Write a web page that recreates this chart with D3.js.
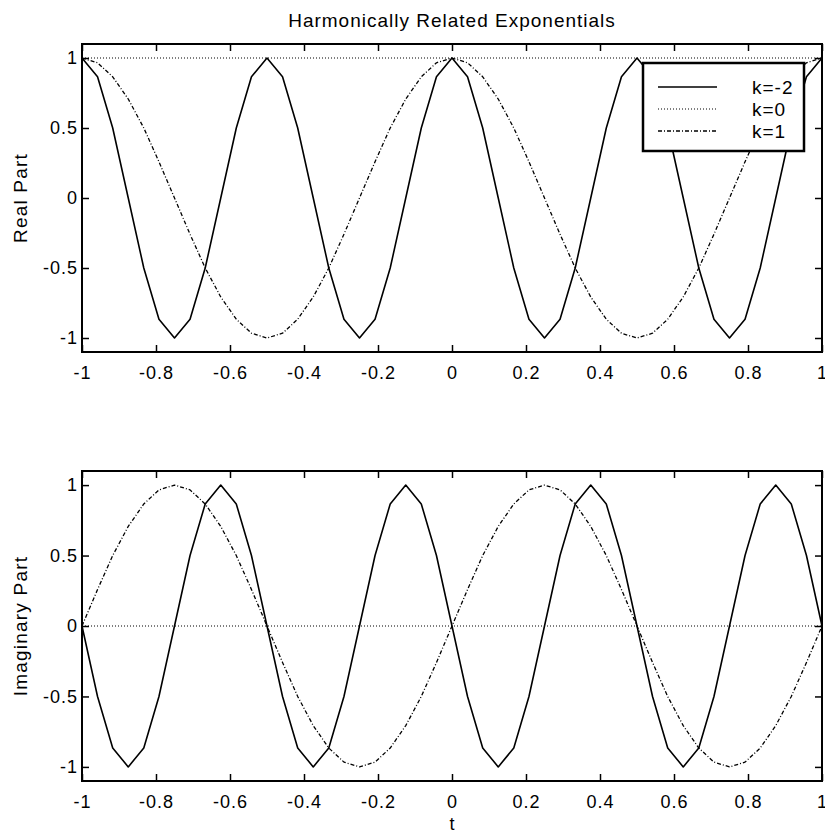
<!DOCTYPE html>
<html>
<head>
<meta charset="utf-8">
<script src="https://cdn.jsdelivr.net/npm/d3@7"></script>
<style>
  body { margin: 0; background: #fff; }
  svg { display: block; font-family: "Liberation Sans", Arial, sans-serif; }
</style>
</head>
<body>
<div id="chart"></div>
<script>
// sample times (49 samples from -1 to 1)
const tValues = [-1, -0.958, -0.917, -0.875, -0.833, -0.792, -0.75, -0.708, -0.667, -0.625,
  -0.583, -0.542, -0.5, -0.458, -0.417, -0.375, -0.333, -0.292, -0.25, -0.208, -0.167,
  -0.125, -0.083, -0.042, 0, 0.042, 0.083, 0.125, 0.167, 0.208, 0.25, 0.292, 0.333, 0.375,
  0.417, 0.458, 0.5, 0.542, 0.583, 0.625, 0.667, 0.708, 0.75, 0.792, 0.833, 0.875, 0.917,
  0.958, 1];

// real parts
const realKm2 = [1, 0.866, 0.5, 0, -0.5, -0.866, -1, -0.866, -0.5, 0, 0.5, 0.866,
  1, 0.866, 0.5, 0, -0.5, -0.866, -1, -0.866, -0.5, 0, 0.5, 0.866,
  1, 0.866, 0.5, 0, -0.5, -0.866, -1, -0.866, -0.5, 0, 0.5, 0.866,
  1, 0.866, 0.5, 0, -0.5, -0.866, -1, -0.866, -0.5, 0, 0.5, 0.866, 1];
const realK0 = [1, 1, 1, 1, 1, 1, 1, 1, 1, 1, 1, 1, 1, 1, 1, 1, 1, 1, 1, 1, 1, 1, 1, 1, 1,
  1, 1, 1, 1, 1, 1, 1, 1, 1, 1, 1, 1, 1, 1, 1, 1, 1, 1, 1, 1, 1, 1, 1, 1];
const realK1 = [1, 0.966, 0.866, 0.707, 0.5, 0.259, 0, -0.259, -0.5, -0.707, -0.866, -0.966,
  -1, -0.966, -0.866, -0.707, -0.5, -0.259, 0, 0.259, 0.5, 0.707, 0.866, 0.966,
  1, 0.966, 0.866, 0.707, 0.5, 0.259, 0, -0.259, -0.5, -0.707, -0.866, -0.966,
  -1, -0.966, -0.866, -0.707, -0.5, -0.259, 0, 0.259, 0.5, 0.707, 0.866, 0.966, 1];

// imaginary parts
const imagKm2 = [0, -0.5, -0.866, -1, -0.866, -0.5, 0, 0.5, 0.866, 1, 0.866, 0.5,
  0, -0.5, -0.866, -1, -0.866, -0.5, 0, 0.5, 0.866, 1, 0.866, 0.5,
  0, -0.5, -0.866, -1, -0.866, -0.5, 0, 0.5, 0.866, 1, 0.866, 0.5,
  0, -0.5, -0.866, -1, -0.866, -0.5, 0, 0.5, 0.866, 1, 0.866, 0.5, 0];
const imagK0 = [0, 0, 0, 0, 0, 0, 0, 0, 0, 0, 0, 0, 0, 0, 0, 0, 0, 0, 0, 0, 0, 0, 0, 0, 0,
  0, 0, 0, 0, 0, 0, 0, 0, 0, 0, 0, 0, 0, 0, 0, 0, 0, 0, 0, 0, 0, 0, 0, 0];
const imagK1 = [0, 0.259, 0.5, 0.707, 0.866, 0.966, 1, 0.966, 0.866, 0.707, 0.5, 0.259,
  0, -0.259, -0.5, -0.707, -0.866, -0.966, -1, -0.966, -0.866, -0.707, -0.5, -0.259,
  0, 0.259, 0.5, 0.707, 0.866, 0.966, 1, 0.966, 0.866, 0.707, 0.5, 0.259,
  0, -0.259, -0.5, -0.707, -0.866, -0.966, -1, -0.966, -0.866, -0.707, -0.5, -0.259, 0];

const seriesNames = ["k=-2", "k=0", "k=1"];
const xTicks = [-1, -0.8, -0.6, -0.4, -0.2, 0, 0.2, 0.4, 0.6, 0.8, 1];
const yTicks = [-1, -0.5, 0, 0.5, 1];

const width = 825, height = 834;
const left = 82, right = 822;

// line styles per series
const styles = [
  { dash: null, w: 1.6 },
  { dash: "1,2", w: 1.2 },
  { dash: "4,2,1,2", w: 1.3 }
];

const svg = d3.select("#chart").append("svg")
  .attr("width", width)
  .attr("height", height);

const x = d3.scaleLinear().domain([-1, 1]).range([left, right]);

const drawPanel = (top, bottom, series, ylabel) => {
  const y = d3.scaleLinear().domain([-1.1, 1.1]).range([bottom, top]);
  const g = svg.append("g");

  const line = d3.line()
    .x((d, i) => x(tValues[i]))
    .y(d => y(d));

  series.forEach((s, i) => {
    g.append("path")
      .attr("d", line(s))
      .attr("fill", "none")
      .attr("stroke", "#000")
      .attr("stroke-width", styles[i].w)
      .attr("stroke-dasharray", styles[i].dash)
      .attr("stroke-linejoin", "round");
  });

  // plain hyphen minus like the original
  const fmt = d => String(d);
  // axes, ticks pointing inwards on all four sides
  const axB = g.append("g").attr("transform", `translate(0,${bottom})`)
    .call(d3.axisBottom(x).tickValues(xTicks).tickSize(-7).tickPadding(14).tickFormat(fmt));
  const axT = g.append("g").attr("transform", `translate(0,${top})`)
    .call(d3.axisTop(x).tickValues(xTicks).tickSize(-7).tickFormat(""));
  const axL = g.append("g").attr("transform", `translate(${left},0)`)
    .call(d3.axisLeft(y).tickValues(yTicks).tickSize(-7).tickPadding(4).tickFormat(fmt));
  const axR = g.append("g").attr("transform", `translate(${right},0)`)
    .call(d3.axisRight(y).tickValues(yTicks).tickSize(-7).tickFormat(""));

  [axB, axT, axL, axR].forEach(a => {
    a.select(".domain").remove();
    a.selectAll(".tick line").attr("stroke", "#000").attr("stroke-width", 1.5);
    a.selectAll("text").attr("fill", "#000")
      .style("font-size", "18px")
      .style("letter-spacing", "1px");
  });

  g.append("rect")
    .attr("x", left).attr("y", top)
    .attr("width", right - left).attr("height", bottom - top)
    .attr("fill", "none")
    .attr("stroke", "#000")
    .attr("stroke-width", 2);

  g.append("text")
    .attr("transform", `translate(27,${(top + bottom) / 2}) rotate(-90)`)
    .attr("text-anchor", "middle")
    .style("font-size", "19px")
    .style("letter-spacing", "1.2px")
    .text(ylabel);

  return { g, y };
};

const p1 = drawPanel(44, 352, [realKm2, realK0, realK1], "Real Part");
const p2 = drawPanel(471, 781, [imagKm2, imagK0, imagK1], "Imaginary Part");

svg.append("text")
  .attr("x", (left + right) / 2)
  .attr("y", 27)
  .attr("text-anchor", "middle")
  .style("font-size", "19px")
  .style("letter-spacing", "1px")
  .text("Harmonically Related Exponentials");

svg.append("text")
  .attr("x", x(0))
  .attr("y", 830)
  .attr("text-anchor", "middle")
  .style("font-size", "18px")
  .text("t");

// legend
const legend = svg.append("g").attr("transform", "translate(643,63)");
legend.append("rect")
  .attr("width", 161).attr("height", 88)
  .attr("fill", "#fff")
  .attr("stroke", "#000")
  .attr("stroke-width", 2.5);

seriesNames.forEach((name, i) => {
  const yy = 24 + i * 22;
  legend.append("line")
    .attr("x1", 15).attr("x2", 74)
    .attr("y1", yy).attr("y2", yy)
    .attr("stroke", "#000")
    .attr("stroke-width", styles[i].w)
    .attr("stroke-dasharray", styles[i].dash);
  legend.append("text")
    .attr("x", 109).attr("y", yy + 7)
    .style("font-size", "19px")
    .style("letter-spacing", "1px")
    .text(name);
});
</script>
</body>
</html>
